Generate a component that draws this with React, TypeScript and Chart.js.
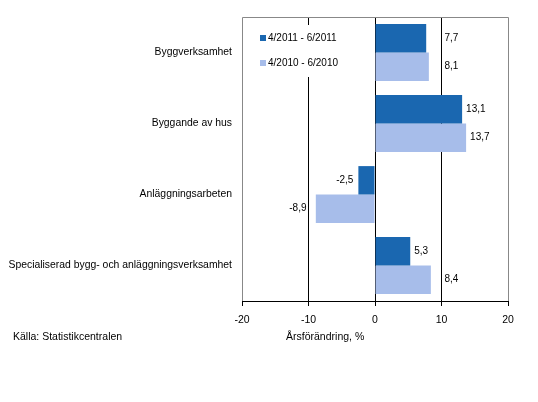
import React, { useEffect, useRef } from "react";
import { Chart, registerables } from "chart.js";

Chart.register(...registerables);

const categories = [
  "Byggverksamhet",
  "Byggande av hus",
  "Anläggningsarbeten",
  "Specialiserad bygg- och anläggningsverksamhet",
];
const series2011 = [7.7, 13.1, -2.5, 5.3];
const series2010 = [8.1, 13.7, -8.9, 8.4];
const seriesLabels = ["4/2011 - 6/2011", "4/2010 - 6/2010"];
const xTicks = [-20, -10, 0, 10, 20];
const gridValues = [-10, 0, 10];
const axisTitle = "Årsförändring, %";
const sourceText = "Källa: Statistikcentralen";

const DARK = "#1a67b0";
const LIGHT = "#a7bdea";
const FONT = "'Liberation Sans', Arial, sans-serif";

export default function App() {
  const ref = useRef<HTMLCanvasElement | null>(null);

  useEffect(() => {
    document.body.style.margin = "0";
    const canvas = ref.current;
    if (!canvas) return;

    const decor = {
      id: "decor",
      beforeDatasetsDraw(chart: any) {
        const { ctx, chartArea } = chart;
        ctx.save();
        ctx.strokeStyle = "#888888";
        ctx.lineWidth = 1;
        ctx.beginPath();
        ctx.moveTo(Math.round(chartArea.left) + 0.5, Math.round(chartArea.bottom));
        ctx.lineTo(Math.round(chartArea.left) + 0.5, Math.round(chartArea.top) + 0.5);
        ctx.lineTo(Math.round(chartArea.right) + 0.5, Math.round(chartArea.top) + 0.5);
        ctx.lineTo(Math.round(chartArea.right) + 0.5, Math.round(chartArea.bottom));
        ctx.stroke();
        ctx.restore();
      },
      afterDatasetsDraw(chart: any) {
        const { ctx, chartArea } = chart;
        const xs = chart.scales.x;
        const gridPx = gridValues.map((g) => xs.getPixelForValue(g));
        ctx.save();
        ctx.font = `10px ${FONT}`;
        ctx.fillStyle = "#000";
        chart.data.datasets.forEach((ds: any, di: number) => {
          const meta = chart.getDatasetMeta(di);
          meta.data.forEach((bar: any, i: number) => {
            const v = ds.data[i];
            const txt = v.toFixed(1).replace(".", ",");
            const w = ctx.measureText(txt).width;
            ctx.textBaseline = "middle";
            ctx.textAlign = "left";
            if (v >= 0) {
              let x0 = bar.x + 4;
              for (const g of gridPx) {
                if (g >= x0 - 1 && g <= x0 + w + 1) x0 = g + 3;
              }
              ctx.fillText(txt, x0, bar.y);
            } else {
              let x1 = bar.x - 5;
              for (const g of gridPx) {
                if (g >= x1 - w - 1 && g <= x1 + 1) x1 = g - 2;
              }
              ctx.fillText(txt, x1 - w, bar.y);
            }
          });
        });
        // legend
        const lx = chartArea.left + 16;
        const ly = chartArea.top + 8;
        ctx.fillStyle = "#ffffff";
        ctx.fillRect(lx, ly, 84, 52);
        const colors = [DARK, LIGHT];
        seriesLabels.forEach((lab, i) => {
          const cy = chartArea.top + 21 + i * 25;
          ctx.fillStyle = colors[i];
          ctx.fillRect(chartArea.left + 18, cy - 3, 6, 6);
          ctx.fillStyle = "#000";
          ctx.textAlign = "left";
          ctx.textBaseline = "middle";
          ctx.fillText(lab, chartArea.left + 26, cy);
        });
        ctx.restore();
      },
      afterDraw(chart: any) {
        const { ctx } = chart;
        const xs = chart.scales.x;
        ctx.save();
        ctx.font = `10.5px ${FONT}`;
        ctx.fillStyle = "#000";
        ctx.textBaseline = "middle";
        ctx.textAlign = "center";
        ctx.fillText(axisTitle, xs.getPixelForValue(-7.5), 337);
        ctx.textAlign = "left";
        ctx.fillText(sourceText, 13, 337);
        ctx.restore();
      },
    };

    const chart = new Chart(canvas, {
      type: "bar",
      data: {
        labels: categories,
        datasets: [
          {
            label: seriesLabels[0],
            data: series2011,
            backgroundColor: DARK,
            categoryPercentage: 0.8,
            barPercentage: 1.0,
          },
          {
            label: seriesLabels[1],
            data: series2010,
            backgroundColor: LIGHT,
            categoryPercentage: 0.8,
            barPercentage: 1.0,
          },
        ],
      },
      options: {
        indexAxis: "y",
        animation: false,
        responsive: false,
        devicePixelRatio: 1,
        layout: { padding: { left: 0, right: 30, top: 17, bottom: 0 } },
        plugins: {
          legend: { display: false },
          tooltip: { enabled: false },
          title: { display: false },
        },
        scales: {
          x: {
            min: -20,
            max: 20,
            afterBuildTicks: (scale: any) => {
              scale.ticks = xTicks.map((v) => ({ value: v }));
            },
            afterFit: (scale: any) => {
              scale.height = 101;
            },
            ticks: {
              color: "#000",
              font: { family: FONT, size: 10.5 },
              padding: 8,
              maxRotation: 0,
            },
            grid: {
              color: (c: any) =>
                c.tick && (c.tick.value === -20 || c.tick.value === 20)
                  ? "rgba(0,0,0,0)"
                  : "#000000",
              tickColor: "#000000",
              tickLength: 5,
              lineWidth: 1,
            },
            border: { display: true, color: "#000000", width: 1 },
          },
          y: {
            afterFit: (scale: any) => {
              scale.width = 242;
            },
            ticks: {
              color: "#000",
              font: { family: FONT, size: 10.4 },
              padding: 10,
            },
            grid: { display: false, drawTicks: false },
            border: { display: false },
          },
        },
      },
      plugins: [decor],
    });

    return () => chart.destroy();
  }, []);

  return (
    <div style={{ width: 538, height: 402, background: "#fff" }}>
      <canvas ref={ref} width={538} height={402} style={{ display: "block" }} />
    </div>
  );
}
